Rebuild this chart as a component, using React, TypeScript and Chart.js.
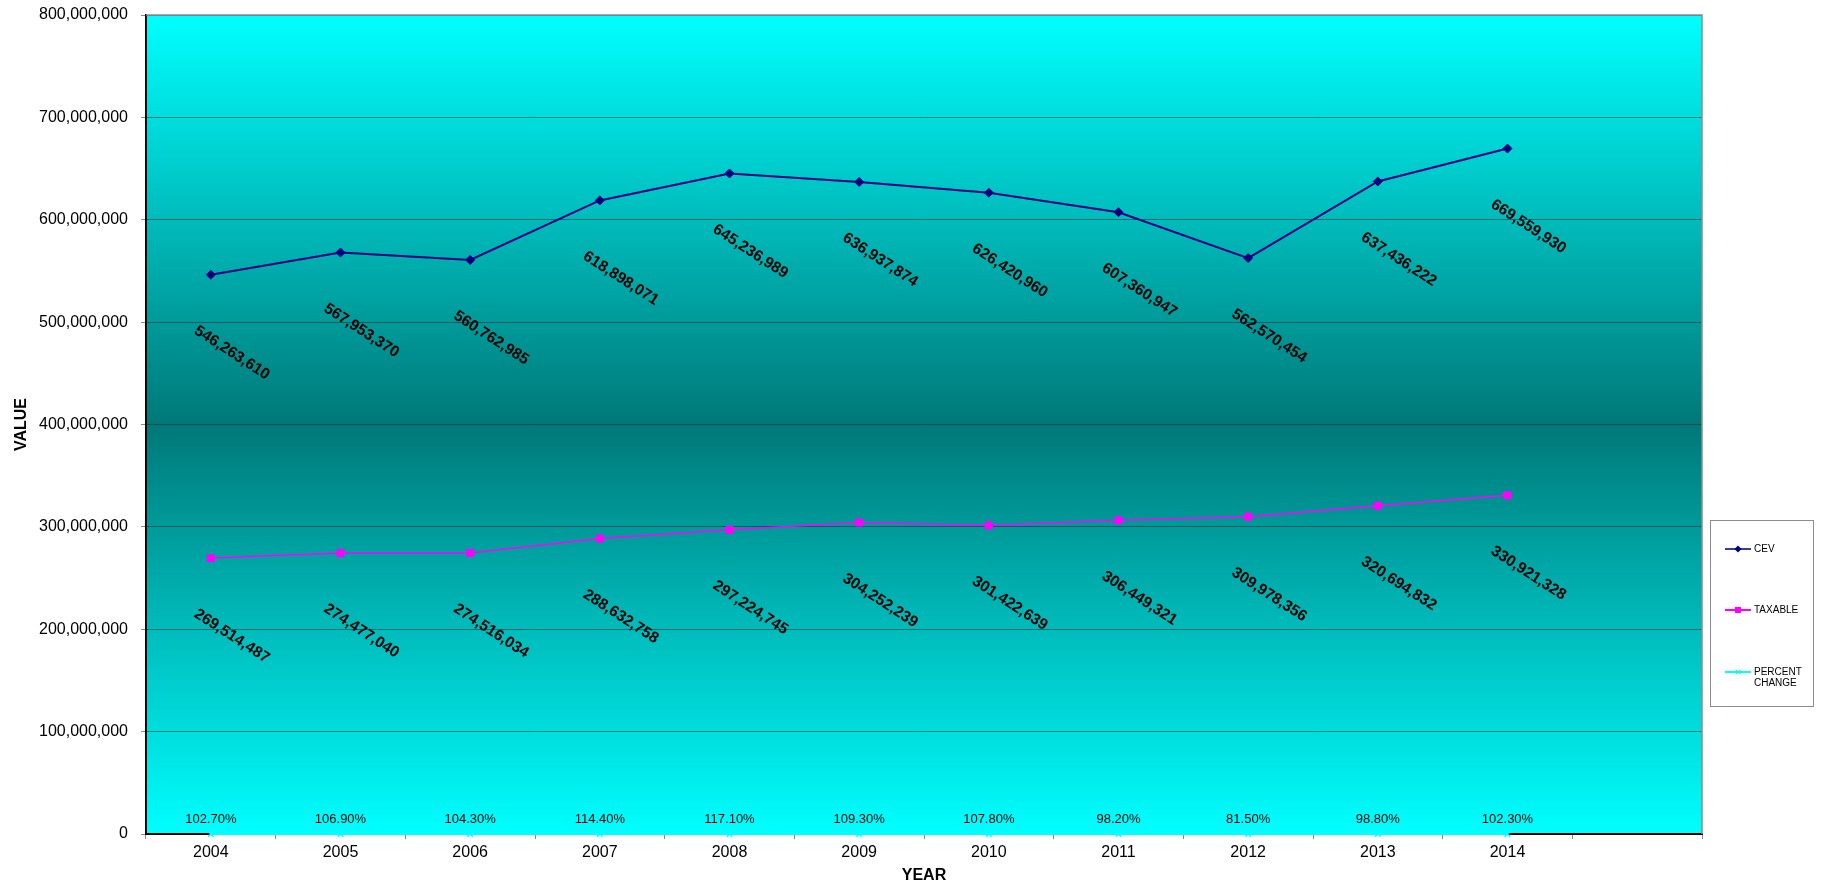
import React, { useEffect, useRef } from "react";
import { Chart, registerables } from "chart.js";

Chart.register(...registerables);

const years = ["2004", "2005", "2006", "2007", "2008", "2009", "2010", "2011", "2012", "2013", "2014", ""];
const cevValues = [546263610, 567953370, 560762985, 618898071, 645236989, 636937874, 626420960, 607360947, 562570454, 637436222, 669559930];
const taxableValues = [269514487, 274477040, 274516034, 288632758, 297224745, 304252239, 301422639, 306449321, 309978356, 320694832, 330921328];
const percentChange = [102.7, 106.9, 104.3, 114.4, 117.1, 109.3, 107.8, 98.2, 81.5, 98.8, 102.3];
const seriesNames = ["CEV", "TAXABLE", "PERCENT CHANGE"];
const yMin = 0;
const yMax = 800000000;
const yStep = 100000000;

const FONT = "'Liberation Sans', Arial, sans-serif";
const NAVY = "#000080";
const MAGENTA = "#FF00FF";
const CYAN = "#00FFFF";

const fmt = (v: number) => Math.round(v).toLocaleString("en-US");

const bgPlugin = {
  id: "bgGradient",
  beforeDraw(chart: any) {
    const { ctx, chartArea } = chart;
    if (!chartArea) return;
    const { left, top, right, bottom } = chartArea;
    const g = ctx.createLinearGradient(0, top, 0, bottom);
    g.addColorStop(0, "#00FFFF");
    g.addColorStop(0.5, "#007878");
    g.addColorStop(1, "#00FFFF");
    ctx.save();
    ctx.fillStyle = g;
    ctx.fillRect(left, top, right - left, bottom - top);
    ctx.restore();
  },
};

const framePlugin = {
  id: "frameAndLabels",
  afterDatasetsDraw(chart: any) {
    const { ctx, chartArea } = chart;
    const { left, top, right, bottom } = chartArea;
    ctx.save();
    ctx.strokeStyle = "#8c8c8c";
    ctx.lineWidth = 1.5;
    ctx.beginPath();
    ctx.moveTo(left, top);
    ctx.lineTo(right, top);
    ctx.lineTo(right, bottom);
    ctx.stroke();

    ctx.fillStyle = "#000";
    ctx.font = `bold 15.5px ${FONT}`;
    ctx.textAlign = "center";
    ctx.textBaseline = "middle";
    [0, 1].forEach((di) => {
      const meta = chart.getDatasetMeta(di);
      const data = chart.data.datasets[di].data as number[];
      meta.data.forEach((pt: any, i: number) => {
        if (data[i] == null) return;
        ctx.save();
        ctx.translate(pt.x + 21, pt.y + 78);
        ctx.rotate((33 * Math.PI) / 180);
        ctx.fillText(fmt(data[i]), 0, 0);
        ctx.restore();
      });
    });

    ctx.font = `13px ${FONT}`;
    const meta2 = chart.getDatasetMeta(2);
    meta2.data.forEach((pt: any, i: number) => {
      if (percentChange[i] == null) return;
      ctx.fillText(percentChange[i].toFixed(2) + "%", pt.x, pt.y - 15);
    });
    ctx.restore();
  },
  afterDraw(chart: any) {
    const { ctx } = chart;
    ctx.save();
    const bx = 1710.5, by = 520.5, bw = 103, bh = 186;
    ctx.fillStyle = "#FFFFFF";
    ctx.fillRect(bx, by, bw, bh);
    ctx.strokeStyle = "#8c8c8c";
    ctx.lineWidth = 1;
    ctx.strokeRect(bx, by, bw, bh);
    const items = [
      { y: 549, color: NAVY, line: "#3c3ca0", style: "diamond" },
      { y: 610, color: MAGENTA, line: MAGENTA, style: "square" },
      { y: 672, color: CYAN, line: CYAN, style: "cross" },
    ];
    ctx.font = `10px ${FONT}`;
    ctx.textBaseline = "middle";
    ctx.textAlign = "left";
    items.forEach((it, idx) => {
      ctx.strokeStyle = it.line;
      ctx.lineWidth = 2;
      ctx.beginPath();
      ctx.moveTo(1725, it.y);
      ctx.lineTo(1751, it.y);
      ctx.stroke();
      const cx = 1738;
      ctx.fillStyle = it.color;
      ctx.strokeStyle = it.color;
      if (it.style === "diamond") {
        ctx.beginPath();
        ctx.moveTo(cx, it.y - 3.5);
        ctx.lineTo(cx + 3.5, it.y);
        ctx.lineTo(cx, it.y + 3.5);
        ctx.lineTo(cx - 3.5, it.y);
        ctx.closePath();
        ctx.fill();
      } else if (it.style === "square") {
        ctx.fillRect(cx - 3, it.y - 3, 6, 6);
      } else {
        ctx.lineWidth = 1;
        ctx.beginPath();
        ctx.moveTo(cx - 2.5, it.y - 2.5);
        ctx.lineTo(cx + 2.5, it.y + 2.5);
        ctx.moveTo(cx + 2.5, it.y - 2.5);
        ctx.lineTo(cx - 2.5, it.y + 2.5);
        ctx.stroke();
      }
      ctx.fillStyle = "#000";
      const name = seriesNames[idx];
      if (name === "PERCENT CHANGE") {
        ctx.fillText("PERCENT", 1754, it.y);
        ctx.fillText("CHANGE", 1754, it.y + 11);
      } else {
        ctx.fillText(name, 1754, it.y);
      }
    });
    ctx.restore();
  },
};

export default function App() {
  const canvasRef = useRef<HTMLCanvasElement | null>(null);

  useEffect(() => {
    document.body.style.margin = "0";
    const canvas = canvasRef.current;
    if (!canvas) return;
    const chart = new Chart(canvas, {
      type: "line",
      data: {
        labels: years,
        datasets: [
          {
            label: seriesNames[0],
            data: cevValues,
            borderColor: NAVY,
            backgroundColor: NAVY,
            borderWidth: 2,
            pointStyle: "rectRot",
            pointRadius: 4.5,
            pointBorderWidth: 1,
            tension: 0,
          },
          {
            label: seriesNames[1],
            data: taxableValues,
            borderColor: MAGENTA,
            backgroundColor: MAGENTA,
            borderWidth: 1.5,
            pointStyle: "rect",
            pointRadius: 5,
            pointBorderWidth: 1,
            tension: 0,
          },
          {
            label: seriesNames[2],
            data: percentChange.map((p) => p / 100),
            borderColor: CYAN,
            backgroundColor: CYAN,
            borderWidth: 2,
            pointStyle: "crossRot",
            pointRadius: 4,
            pointBorderWidth: 1.5,
            tension: 0,
            clip: false,
          } as any,
        ],
      },
      options: {
        animation: false,
        responsive: false,
        maintainAspectRatio: false,
        layout: { padding: { top: 15, right: 120, bottom: 0, left: 0 }, autoPadding: false } as any,
        plugins: {
          legend: { display: false },
          tooltip: { enabled: false },
          title: { display: false },
        },
        scales: {
          x: {
            type: "category",
            offset: true,
            grid: {
              display: true,
              drawOnChartArea: false,
              drawTicks: true,
              tickLength: 5,
              tickColor: "#8c8c8c",
              offset: true,
            },
            border: { display: true, color: "#000", width: 2 },
            ticks: {
              color: "#000",
              font: { family: FONT, size: 16 },
              padding: 4,
              maxRotation: 0,
              autoSkip: false,
            },
            title: {
              display: true,
              text: "YEAR",
              color: "#000",
              font: { family: FONT, size: 16, weight: "bold" },
              padding: { top: 0, bottom: 2 },
            },
            afterFit: (scale: any) => {
              scale.height = 53;
              scale.paddingLeft = 0;
              scale.paddingRight = 0;
            },
          },
          y: {
            min: yMin,
            max: yMax,
            grid: {
              color: "rgba(20,40,40,0.55)",
              lineWidth: 1,
              drawTicks: true,
              tickLength: 5,
              tickColor: "#8c8c8c",
            },
            border: { display: true, color: "#000", width: 2 },
            ticks: {
              stepSize: yStep,
              color: "#000",
              font: { family: FONT, size: 16 },
              padding: 13,
              callback: (v: any) => fmt(Number(v)),
            },
            title: {
              display: true,
              text: "VALUE",
              color: "#000",
              font: { family: FONT, size: 16, weight: "bold" },
              padding: { top: 12, bottom: 0 },
            },
            afterFit: (scale: any) => {
              scale.width = 146;
              scale.paddingTop = 0;
              scale.paddingBottom = 0;
            },
          },
        },
      },
      plugins: [bgPlugin, framePlugin],
    });
    return () => chart.destroy();
  }, []);

  return (
    <div style={{ width: 1822, height: 887, position: "relative", background: "#fff" }}>
      <canvas ref={canvasRef} width={1822} height={887} style={{ display: "block", width: 1822, height: 887 }} />
    </div>
  );
}
